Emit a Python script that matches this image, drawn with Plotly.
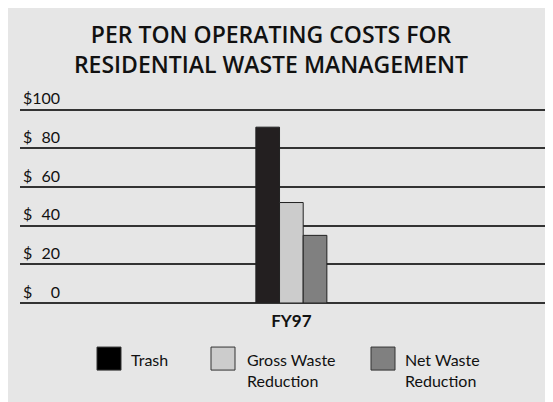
import plotly.graph_objects as go

# ---- data ----
categories = ["FY97"]
series_names = ["Trash", "Gross Waste<br>Reduction", "Net Waste<br>Reduction"]
trash = [91]
gross_waste_reduction = [52]
net_waste_reduction = [35]
tick_values = [0, 20, 40, 60, 80, 100]
tick_labels = ["$\u2007\u20070", "$\u200720", "$\u200740", "$\u200760", "$\u200780", "$100"]

series_values = [trash, gross_waste_reduction, net_waste_reduction]
colors = ["#231f20", "#cccccc", "#808080"]
legend_colors = ["#000000", "#cccccc", "#808080"]

W, H = 553, 402
OFF = 8  # page body margin
YMAX = 118  # headroom so the top tick label stays inside the plot area
PPU = 1.93  # pixels per dollar in the reference
L, R, B = 20 - OFF, 550 - OFF, 303 - OFF
T = B - YMAX * PPU


def px(x):
    return (x - OFF - L) / (R - L)


def py(y):
    return (B - (y - OFF)) / (B - T)


FONT = "Lato, 'Open Sans', sans-serif"

fig = go.Figure()
for name, vals, col in zip(series_names, series_values, colors):
    fig.add_trace(go.Bar(
        x=categories, y=vals, name=name.replace("<br>", " "),
        marker=dict(color=col, line=dict(color="#222222", width=1)),
        showlegend=False,
    ))

shapes = []
annotations = []
leg_sq_x = [97, 211, 371]
leg_tx_x = [129, 245, 403]
for i, name in enumerate(series_names):
    shapes.append(dict(type="rect", xref="paper", yref="paper",
                       x0=px(leg_sq_x[i]), x1=px(leg_sq_x[i] + 24),
                       y0=py(370), y1=py(347),
                       fillcolor=legend_colors[i], line=dict(color="#333333", width=1)))
    annotations.append(dict(text=name, xref="paper", yref="paper",
                            x=px(leg_tx_x[i]), y=py(348), xanchor="left", yanchor="top",
                            align="left", showarrow=False,
                            font=dict(family=FONT, size=16, color="#111111")))

fig.update_layout(
    width=W, height=H,
    margin=dict(l=L, r=W - R, t=T, b=H - B, pad=0),
    paper_bgcolor="#e6e6e6",
    plot_bgcolor="#e6e6e6",
    title=dict(text="PER TON OPERATING COSTS FOR<br>RESIDENTIAL WASTE MANAGEMENT",
               xref="paper", x=px(271), xanchor="center",
               yref="container", y=1 - (43 - OFF) / H, yanchor="middle",
               font=dict(family="'Open Sans', sans-serif", size=23, weight=600, color="#111111")),
    barmode="group",
    bargap=0.866,
    bargroupgap=0,
    shapes=shapes,
    annotations=annotations,
    font=dict(family=FONT, color="#111111"),
    xaxis=dict(range=[-0.512, 0.488], showgrid=False, zeroline=False, showline=False,
               ticks="", tickfont=dict(size=17, weight="bold", color="#111111"),
               ticklabelstandoff=6),
    yaxis=dict(range=[0, YMAX], tickvals=tick_values, ticktext=tick_labels,
               showgrid=True, gridcolor="#333333", gridwidth=1.5,
               zeroline=True, zerolinecolor="#333333", zerolinewidth=1.5,
               showline=False, ticks="", ticklabelposition="inside",
               ticklabelshift=-11, ticklabelstandoff=0,
               tickfont=dict(size=16, color="#111111")),
)

fig.write_html("out.html")
